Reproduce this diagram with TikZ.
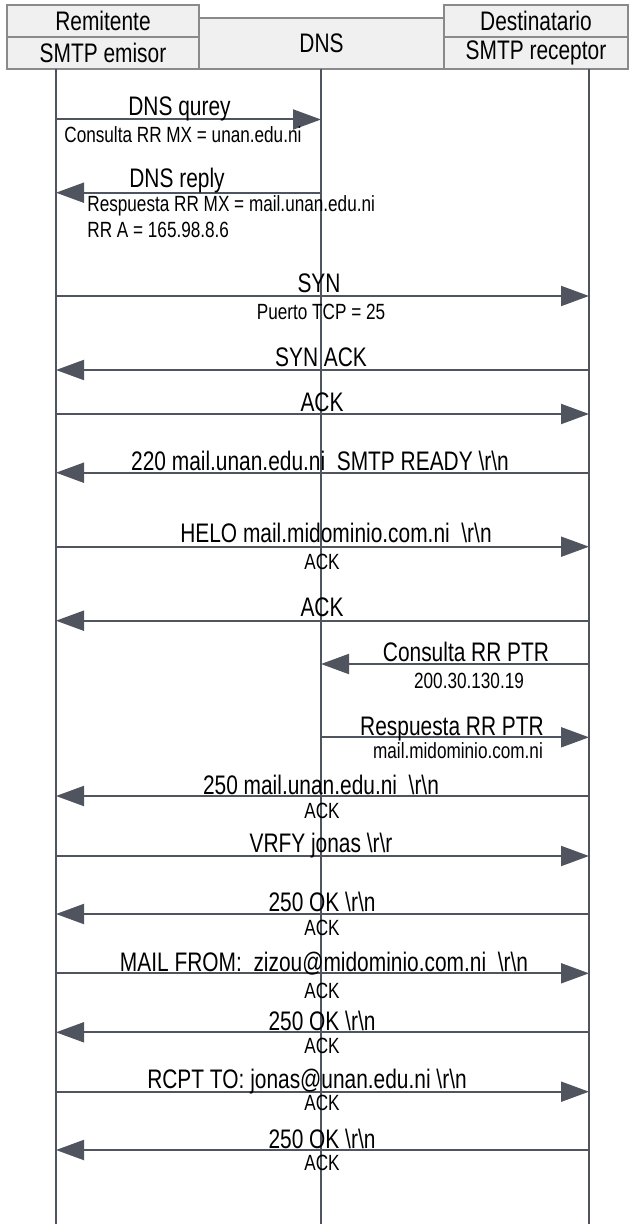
\documentclass[tikz,border=0pt]{standalone}
\usepackage{fontspec}
\setmainfont{Liberation Sans}[FakeStretch=0.78]
\usepackage{tikz}
\usepackage{xcolor}
\usetikzlibrary{arrows.meta}

\definecolor{hdrline}{HTML}{8A8A8A}
\definecolor{hdrfill}{HTML}{F0F0F0}
\definecolor{lifeline}{HTML}{50545F}

\newcommand{\rn}{\textbackslash r\textbackslash n}

\begin{document}
\begin{tikzpicture}[
    x=0.5pt, y=-0.5pt,
    %% ── Styles ──────────────────────────────────────────────────
    hdr/.style   ={draw=hdrline, line width=1pt, fill=hdrfill, anchor=north west,
                                 inner sep=0pt, outer sep=0pt, align=center,
                                 font=\fontsize{13.4}{15}\selectfont},
    life/.style  ={draw=lifeline, line width=1pt},
    msg/.style   ={-{Triangle[length=14pt, width=10pt]}, line width=1pt, color=lifeline},
    big/.style   ={anchor=base, inner sep=0pt, font=\fontsize{13.4}{15}\selectfont},
    note/.style  ={anchor=base, inner sep=0pt, font=\fontsize{11}{13}\selectfont}
]
    \useasboundingbox (0,0) rectangle (632,1224);

    %% ── Header boxes ────────────────────────────────────────────
    \node[hdr, minimum width=96pt,   minimum height=16pt]   (rem) at (7,5)     {Remitente};
    \node[hdr, minimum width=96pt,   minimum height=16pt]   (emi) at (7,37)    {SMTP emisor};
    \node[hdr, minimum width=122.5pt, minimum height=25.7pt] (dns) at (199,17.7) {DNS};
    \node[hdr, minimum width=92pt,   minimum height=16pt]   (des) at (444,5)   {Destinatario};
    \node[hdr, minimum width=92pt,   minimum height=16pt]   (rec) at (444,37)  {SMTP receptor};

    %% ── Lifelines ───────────────────────────────────────────────
    \coordinate (sndTop) at (56,69);   \coordinate (sndBot) at (56,1224);
    \coordinate (dnsTop) at (321,69);  \coordinate (dnsBot) at (321,1224);
    \coordinate (rcvTop) at (589,69);  \coordinate (rcvBot) at (589,1224);
    \draw[life] (sndTop) -- (sndBot);
    \draw[life] (dnsTop) -- (dnsBot);
    \draw[life] (rcvTop) -- (rcvBot);

    %% ── DNS lookup ──────────────────────────────────────────────
    \draw[msg] (sndTop |- 0,119.5) -- (dnsTop |- 0,119.5);
    \node[big] (qry) at (179.5,115.5) {DNS qurey};
    \node[note, anchor=base west] (qryN) at (64,143) {Consulta RR MX = unan.edu.ni};

    \draw[msg] (dnsTop |- 0,192.7) -- (sndTop |- 0,192.7);
    \node[big] (rpl) at (177,187.5) {DNS reply};
    \node[note, anchor=base west] (rplN)  at (87,212) {Respuesta RR MX = mail.unan.edu.ni};
    \node[note, anchor=base west] (rplN2) at (87,238) {RR A = 165.98.8.6};

    %% ── TCP handshake ───────────────────────────────────────────
    \draw[msg] (sndTop |- 0,296) -- (rcvTop |- 0,296);
    \node[big]  (syn)  at (319,292.7) {SYN};
    \node[note] (synN) at (321,320)   {Puerto TCP = 25};

    \draw[msg] (rcvTop |- 0,370) -- (sndTop |- 0,370);
    \node[big] (synack) at (321,367) {SYN ACK};

    \draw[msg] (sndTop |- 0,414) -- (rcvTop |- 0,414);
    \node[big] (ack) at (322,411.5) {ACK};

    %% ── SMTP session ────────────────────────────────────────────
    \draw[msg] (rcvTop |- 0,472.7) -- (sndTop |- 0,472.7);
    \node[big] (ready) at (320,470.7) {220 mail.unan.edu.ni\ \ SMTP READY \rn};

    \draw[msg] (sndTop |- 0,546.7) -- (rcvTop |- 0,546.7);
    \node[big]  (helo)  at (336,542.7) {HELO mail.midominio.com.ni\ \ \rn};
    \node[note] (heloN) at (322,569)   {ACK};

    \draw[msg] (rcvTop |- 0,620.7) -- (sndTop |- 0,620.7);
    \node[big] (ack2) at (322,616.7) {ACK};

    \draw[msg] (rcvTop |- 0,664) -- (dnsTop |- 0,664);
    \node[big]  (ptrq)  at (466,661.5) {Consulta RR PTR};
    \node[note] (ptrqN) at (469,688)   {200.30.130.19};

    \draw[msg] (dnsTop |- 0,737.3) -- (rcvTop |- 0,737.3);
    \node[big]  (ptrr)  at (452,735) {Respuesta RR PTR};
    \node[note] (ptrrN) at (458,758) {mail.midominio.com.ni};

    \draw[msg] (rcvTop |- 0,796) -- (sndTop |- 0,796);
    \node[big]  (hi)  at (321,794.5) {250 mail.unan.edu.ni\ \ \rn};
    \node[note] (hiN) at (322,818)   {ACK};

    \draw[msg] (sndTop |- 0,856) -- (rcvTop |- 0,856);
    \node[big] (vrfy) at (321,852) {VRFY jonas \textbackslash r\textbackslash r};

    \draw[msg] (rcvTop |- 0,914) -- (sndTop |- 0,914);
    \node[big]  (ok1)  at (322,911.7) {250 OK \rn};
    \node[note] (ok1N) at (322,935.7) {ACK};

    \draw[msg] (sndTop |- 0,973.3) -- (rcvTop |- 0,973.3);
    \node[big]  (from)  at (324,971.7) {MAIL FROM:\ \ zizou@midominio.com.ni\ \ \rn};
    \node[note] (fromN) at (322,998)   {ACK};

    \draw[msg] (rcvTop |- 0,1032.3) -- (sndTop |- 0,1032.3);
    \node[big]  (ok2)  at (322,1030.7) {250 OK \rn};
    \node[note] (ok2N) at (322,1053)   {ACK};

    \draw[msg] (sndTop |- 0,1091.7) -- (rcvTop |- 0,1091.7);
    \node[big]  (rcpt)  at (307,1088.3) {RCPT TO: jonas@unan.edu.ni \rn};
    \node[note] (rcptN) at (322,1110)   {ACK};

    \draw[msg] (rcvTop |- 0,1150) -- (sndTop |- 0,1150);
    \node[big]  (ok3)  at (322,1148.3) {250 OK \rn};
    \node[note] (ok3N) at (322,1170)   {ACK};

\end{tikzpicture}
\end{document}
